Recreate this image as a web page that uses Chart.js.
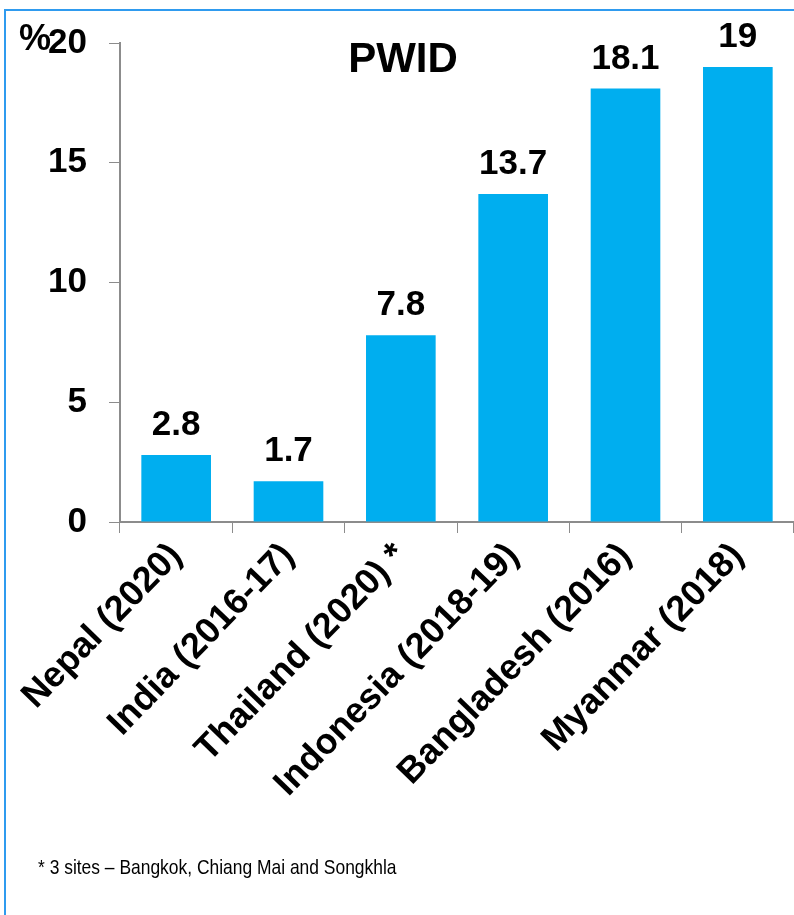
<!DOCTYPE html>
<html>
<head>
<meta charset="utf-8">
<script src="https://cdn.jsdelivr.net/npm/chart.js@4/dist/chart.umd.min.js"></script>
<style>
  html, body { margin: 0; padding: 0; background: #fff; }
  #wrap { width: 794px; height: 915px; position: relative; }
</style>
</head>
<body>
<div id="wrap"><canvas id="c" width="794" height="915"></canvas></div>
<script>
// Prevalence among people who inject drugs, by country and survey year
const categories = ['Nepal (2020)', 'India (2016-17)', 'Thailand (2020) *', 'Indonesia (2018-19)', 'Bangladesh (2016)', 'Myanmar (2018)'];
const values = [2.8, 1.7, 7.8, 13.7, 18.1, 19];
const valueLabels = ['2.8', '1.7', '7.8', '13.7', '18.1', '19'];
const yTicks = [0, 5, 10, 15, 20];
const chartTitle = 'PWID';
const unitLabel = '%';
const footnote = '* 3 sites \u2013 Bangkok, Chiang Mai and Songkhla';

const BAR = '#00AEEF';
const AXIS = '#8c8c8c';
const FRAME = '#2f9bef';
const FONT = '"Liberation Sans", Arial, sans-serif';

const decorations = {
  id: 'decorations',
  afterDatasetsDraw(chart) {
    const ctx = chart.ctx;
    const meta = chart.getDatasetMeta(0);
    ctx.save();
    // value labels above each bar
    ctx.fillStyle = '#000';
    ctx.font = 'bold 35px ' + FONT;
    ctx.textAlign = 'center';
    ctx.textBaseline = 'alphabetic';
    meta.data.forEach((bar, i) => {
      ctx.fillText(valueLabels[i], bar.x, bar.y - 20);
    });
    // title
    ctx.font = 'bold 42px ' + FONT;
    ctx.fillText(chartTitle, 403, 72);
    // unit label next to the top tick
    ctx.textAlign = 'left';
    ctx.font = 'bold 36px ' + FONT;
    ctx.fillText(unitLabel, 19, 50);
    // footnote, condensed
    ctx.font = '21px ' + FONT;
    ctx.translate(38, 874);
    ctx.scale(0.83, 1);
    ctx.fillText(footnote, 0, 0);
    ctx.restore();
    // frame lines along top and left
    ctx.save();
    ctx.strokeStyle = FRAME;
    ctx.lineWidth = 2;
    ctx.beginPath();
    ctx.moveTo(5, 915);
    ctx.lineTo(5, 10);
    ctx.lineTo(794, 10);
    ctx.stroke();
    ctx.restore();
  }
};

new Chart(document.getElementById('c'), {
  type: 'bar',
  data: {
    labels: categories,
    datasets: [{
      data: values,
      backgroundColor: BAR,
      borderWidth: 0,
      barPercentage: 0.62,
      categoryPercentage: 1.0
    }]
  },
  options: {
    responsive: false,
    animation: false,
    layout: { padding: { left: 0, right: 0, top: 41, bottom: 0 } },
    plugins: { legend: { display: false }, title: { display: false }, tooltip: { enabled: false } },
    scales: {
      x: {
        offset: true,
        grid: { display: true, drawOnChartArea: false, drawTicks: true, tickLength: 11, color: AXIS, offset: true },
        border: { display: true, color: AXIS, width: 2 },
        ticks: {
          color: '#000',
          font: { family: FONT, size: 36, weight: 'bold' },
          maxRotation: 46, minRotation: 46, autoSkip: false, padding: 2
        },
        afterFit(s) { s.height = 915 - 522; }
      },
      y: {
        min: 0, max: 20,
        afterBuildTicks(s) { s.ticks = yTicks.map(v => ({ value: v })); },
        grid: { display: true, drawOnChartArea: false, drawTicks: true, tickLength: 11, color: AXIS },
        border: { display: true, color: AXIS, width: 2 },
        ticks: {
          color: '#000',
          font: { family: FONT, size: 35, weight: 'bold' },
          padding: 22
        },
        afterFit(s) { s.width = 120; }
      }
    }
  },
  plugins: [decorations]
});
</script>
</body>
</html>
